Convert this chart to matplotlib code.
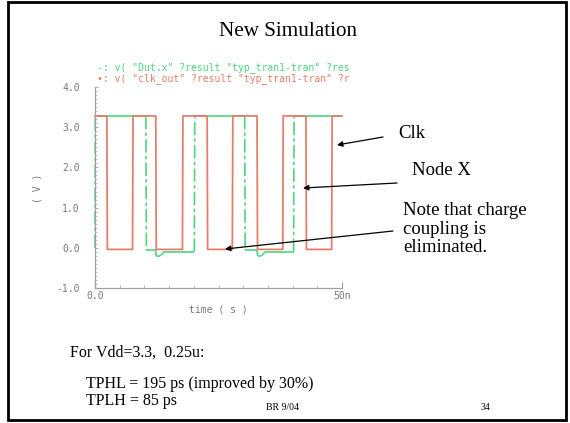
import matplotlib
matplotlib.use("Agg")
import matplotlib.pyplot as plt
from matplotlib.patches import Rectangle, FancyArrowPatch
from matplotlib.collections import LineCollection
from matplotlib.ticker import MultipleLocator, FixedLocator

W, H = 570, 423

# ---- data (time in ns, voltage in V) ----
clk_t = [0.0, 2.4, 2.5, 7.6, 7.7, 12.3, 12.4, 17.7, 17.8, 22.7, 22.8,
         27.8, 27.9, 32.8, 32.9, 38.0, 38.1, 42.7, 42.8, 47.9, 48.0, 50.0]
clk_v = [3.28, 3.28, -0.04, -0.04, 3.28, 3.28, -0.04, -0.04, 3.28, 3.28, -0.04,
         -0.04, 3.28, 3.28, -0.04, -0.04, 3.28, 3.28, -0.04, -0.04, 3.28, 3.28]

nodex_t = [0.0, 0.05, 10.3, 10.4, 12.3, 12.4, 13.2, 14.0, 20.1, 20.2,
           30.3, 30.4, 32.8, 32.9, 33.7, 34.5, 40.2, 40.3, 50.0]
nodex_v = [0.0, 3.28, 3.28, -0.06, -0.06, -0.2, -0.2, -0.1, -0.1, 3.28,
           3.28, -0.06, -0.06, -0.2, -0.2, -0.1, -0.1, 3.28, 3.28]

y_ticks = [-1.0, 0.0, 1.0, 2.0, 3.0, 4.0]
x_ticks = [0.0, 50.0]
x_ticklabels = ["0.0", "50n"]

legend_green = '-: v( "Dut.x" ?result "typ_tran1-tran" ?res'
legend_red = '\u2022: v( "clk_out" ?result "typ_tran1-tran" ?r'

RED = "#E4806A"
GREEN = "#4ED67E"
GRAY = "#7a7a7a"

fig = plt.figure(figsize=(W / 100, H / 100), dpi=100)
fig.patch.set_facecolor("white")


def fx(x):
    return x / W


def fy(y):
    return 1 - y / H


# axes placement (pixels)
ax_l, ax_r, ax_t, ax_b = 95, 342, 87, 288
ax = fig.add_axes([fx(ax_l), fy(ax_b), fx(ax_r) - fx(ax_l), fy(ax_t) - fy(ax_b)])
ax.set_xlim(0, 50)
ax.set_ylim(-1, 4)

# Node X: level segments solid, edges dash-dot
flat, edges = [], []
for i in range(len(nodex_t) - 1):
    seg = [(nodex_t[i], nodex_v[i]), (nodex_t[i + 1], nodex_v[i + 1])]
    (edges if abs(nodex_v[i + 1] - nodex_v[i]) > 1 else flat).append(seg)
ax.add_collection(LineCollection(flat, colors=GREEN, linewidths=1.2, zorder=2, clip_on=False))
ax.add_collection(LineCollection(edges, colors=GREEN, linewidths=1.2, zorder=2, clip_on=False,
                                 linestyles=[(0, (8, 2, 2, 2))]))
ax.plot(clk_t, clk_v, color=RED, lw=1.3, clip_on=False, zorder=3)

for s in ["top", "right"]:
    ax.spines[s].set_visible(False)
for s in ["left", "bottom"]:
    ax.spines[s].set_color("#a0a0a0")
    ax.spines[s].set_linewidth(0.9)

mono = "DejaVu Sans Mono"
ax.yaxis.set_major_locator(FixedLocator(y_ticks))
ax.set_yticklabels(["%.1f" % v for v in y_ticks], fontsize=7, color=GRAY, family=mono)
ax.yaxis.set_minor_locator(MultipleLocator(0.1))
ax.tick_params(axis="y", which="major", length=2.5, direction="in", color="#b0b0b0", pad=11)
ax.tick_params(axis="y", which="minor", length=1.5, direction="in", color="#b8b8b8")

ax.xaxis.set_major_locator(FixedLocator(x_ticks))
ax.set_xticklabels(x_ticklabels, fontsize=7, color=GRAY, family=mono)
ax.xaxis.set_minor_locator(MultipleLocator(5))
ax.tick_params(axis="x", which="major", length=4, direction="in", color="#a0a0a0", pad=2)
ax.tick_params(axis="x", which="minor", length=2.5, direction="in", color="#b0b0b0")

ax.set_xlabel("time ( s )", fontsize=7, color=GRAY, family=mono, labelpad=3)
fig.text(fx(38), fy(188), "( V )", rotation=90, fontsize=7, color=GRAY, family=mono,
         ha="center", va="center")

# legend lines
fig.text(fx(97), fy(68), legend_green, fontsize=7, color=GREEN, family=mono, va="center")
fig.text(fx(97), fy(79), legend_red, fontsize=7, color=RED, family=mono, va="center")

serif = "Liberation Serif"
fig.text(fx(288), fy(36.5), "New Simulation", fontsize=15.2, family=serif, ha="center", va="baseline")

# annotations
fig.text(fx(398), fy(133), "Clk", fontsize=13.5, family=serif, va="center")
fig.text(fx(412), fy(170), "Node X", fontsize=13.5, family=serif, va="center")
fig.text(fx(403), fy(202), "Note that charge\ncoupling is\neliminated.", fontsize=13.5,
         family=serif, va="top", linespacing=1.12)

arrows = [((383, 137), (337, 145)), ((397, 183), (303, 188)), ((393, 231), (225, 249))]
for (x0, y0), (x1, y1) in arrows:
    fig.add_artist(FancyArrowPatch(
        (fx(x0), fy(y0)), (fx(x1), fy(y1)), transform=fig.transFigure,
        arrowstyle="-|>", mutation_scale=8, color="black", lw=0.9, shrinkA=0, shrinkB=0))

# bottom texts
fig.text(fx(70), fy(353), "For Vdd=3.3,  0.25u:", fontsize=11.5, family=serif, va="center")
fig.text(fx(86), fy(384), "TPHL = 195 ps (improved by 30%)", fontsize=11.5, family=serif, va="center")
fig.text(fx(86), fy(401), "TPLH = 85 ps", fontsize=11.5, family=serif, va="center")
fig.text(fx(283), fy(407), "BR 9/04", fontsize=7, family=serif, ha="center", va="center")
fig.text(fx(485), fy(407), "34", fontsize=7, family=serif, ha="center", va="center")

# slide border
fig.add_artist(Rectangle((fx(8), fy(420)), fx(566) - fx(8), fy(2) - fy(420),
                         transform=fig.transFigure, fill=False, ec="black", lw=2.0))

fig.savefig("out.png", dpi=100)
